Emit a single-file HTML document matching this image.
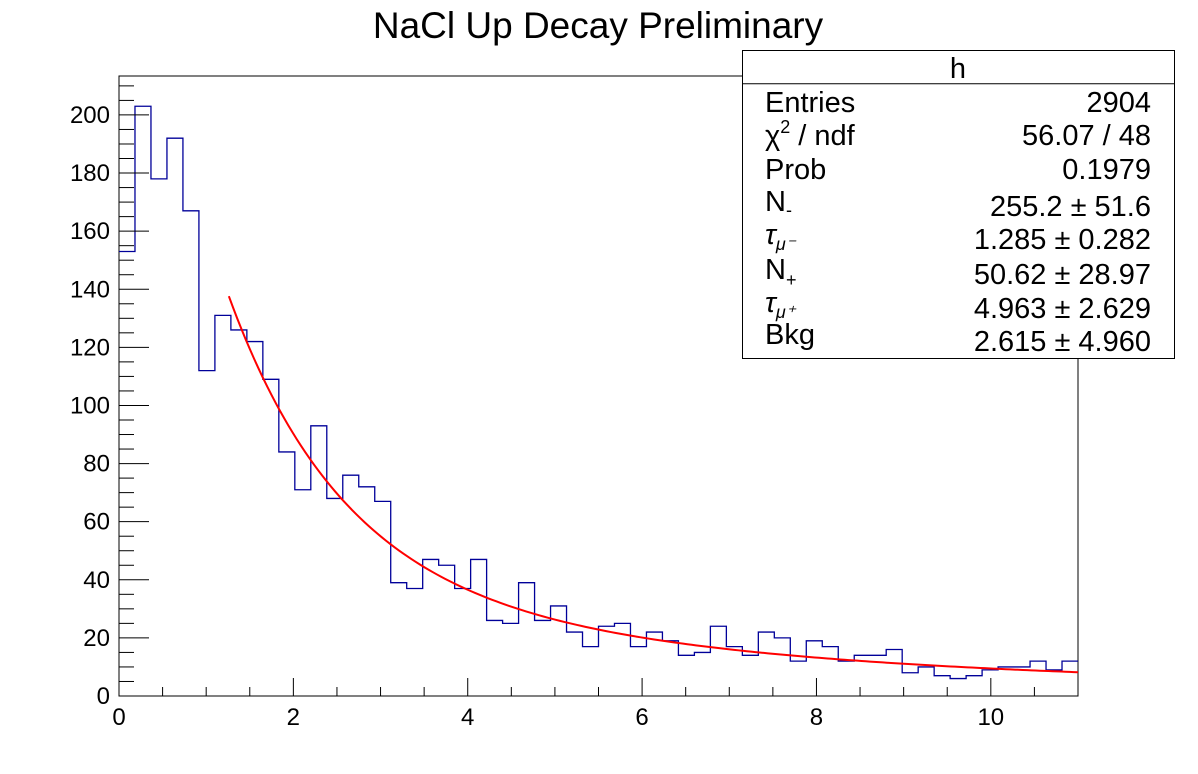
<!DOCTYPE html>
<html><head><meta charset="utf-8"><style>
html,body{margin:0;padding:0;background:#fff;}
svg{display:block;font-family:"Liberation Sans",sans-serif;}
</style></head><body>
<svg id="chart" width="1198" height="774" viewBox="0 0 1198 774">
<rect width="1198" height="774" fill="#fff"/>
<text x="598" y="38" font-size="37" text-anchor="middle">NaCl Up Decay Preliminary</text>
<g id="plot"></g>
<g>
<rect x="742.5" y="50.5" width="432" height="308" fill="#fff" stroke="#000" stroke-width="1"/>
<line x1="742.5" y1="83.7" x2="1174.5" y2="83.7" stroke="#000"/>
<text x="958" y="78" font-size="29" text-anchor="middle">h</text>
<g font-size="29">
<text x="765" y="112">Entries</text><text x="1151" y="112" text-anchor="end">2904</text>
<text x="765" y="145">χ<tspan font-size="18" dy="-12">2</tspan><tspan dy="12"> / ndf</tspan></text><text x="1151" y="145" text-anchor="end">56.07 / 48</text>
<text x="765" y="179">Prob</text><text x="1151" y="179" text-anchor="end">0.1979</text>
<text x="765" y="211">N<tspan font-size="18" dy="5">-</tspan></text><text x="1151" y="216" text-anchor="end">255.2 ± 51.6</text>
<text x="765" y="244" font-style="italic">τ<tspan font-size="18" dy="6">μ⁻</tspan></text><text x="1151" y="249" text-anchor="end">1.285 ± 0.282</text>
<text x="765" y="279">N<tspan font-size="18" dy="7">+</tspan></text><text x="1151" y="284" text-anchor="end">50.62 ± 28.97</text>
<text x="765" y="312" font-style="italic">τ<tspan font-size="18" dy="6">μ⁺</tspan></text><text x="1151" y="318" text-anchor="end">4.963 ± 2.629</text>
<text x="765" y="344">Bkg</text><text x="1151" y="351" text-anchor="end">2.615 ± 4.960</text>
</g>
</g>
</svg>
<script>
const binCounts = [153,203,178,192,167,112,131,126,122,109,84,71,93,68,76,72,67,39,37,47,45,37,47,26,25,39,26,31,22,17,24,25,17,22,19,14,15,24,17,14,22,20,12,19,17,12,14,14,16,8,10,7,6,7,9,10,10,12,9,12];
const xRange = [0, 11];
const yRange = [0, 213.4];
const xTickLabels = [0,2,4,6,8,10];
const yTickLabels = [0,20,40,60,80,100,120,140,160,180,200];
const fitParams = [255.2, 1.285, 50.62, 4.963, 2.615];
const fitRange = [1.26, 11];

const L=119,R=1078,T=76,B=696;
const sx=v=>L+(v-xRange[0])/(xRange[1]-xRange[0])*(R-L);
const sy=v=>B-(v-yRange[0])/(yRange[1]-yRange[0])*(B-T);
const NS='http://www.w3.org/2000/svg';
const g=document.getElementById('plot');
function mk(tag,attrs){const e=document.createElementNS(NS,tag);for(const k in attrs)e.setAttribute(k,attrs[k]);g.appendChild(e);return e;}

const frame=mk('rect',{x:L,y:T,width:R-L,height:B-T,fill:'none',stroke:'#000','stroke-width':1});



const bw=(xRange[1]-xRange[0])/binCounts.length;
let d='M'+sx(0)+','+sy(binCounts[0]);
binCounts.forEach((c,i)=>{d+=' L'+sx(i*bw)+','+sy(c)+' L'+sx((i+1)*bw)+','+sy(c);
 if(i<binCounts.length-1)d+=' L'+sx((i+1)*bw)+','+sy(binCounts[i+1]);});
const hist=mk('path',{d:d,fill:'none',stroke:'#000099','stroke-width':1.3});



const f=t=>fitParams[0]*Math.exp(-t/fitParams[1])+fitParams[2]*Math.exp(-t/fitParams[3])+fitParams[4];
let fd='';
for(let k=0;k<=200;k++){const t=fitRange[0]+(fitRange[1]-fitRange[0])*k/200;fd+=(k?' L':'M')+sx(t).toFixed(2)+','+sy(f(t)).toFixed(2);}
const fit=mk('path',{d:fd,fill:'none',stroke:'#ff0000','stroke-width':2});



for(let v=0;v<=11.001;v+=0.5){const maj=Math.abs(v/2-Math.round(v/2))<1e-6;
 const tk=mk('line',{x1:sx(v),x2:sx(v),y1:B,y2:B-(maj?18:9),stroke:'#000','stroke-width':1});
 
 }
xTickLabels.forEach(v=>{const t=mk('text',{x:sx(v),y:725});t.style.fontSize='24px';t.setAttribute('text-anchor','middle');t.textContent=v;
 
 });
for(let v=0;v<=yRange[1];v+=5){const maj=v%20===0;
 const tk=mk('line',{x1:L,x2:L+(maj?30:15),y1:sy(v),y2:sy(v),stroke:'#000','stroke-width':1});
 
 }
yTickLabels.forEach(v=>{const t=mk('text',{x:110,y:sy(v)+8});t.style.fontSize='24px';t.setAttribute('text-anchor','end');t.textContent=v;
 
 });
</script>
</body></html>
